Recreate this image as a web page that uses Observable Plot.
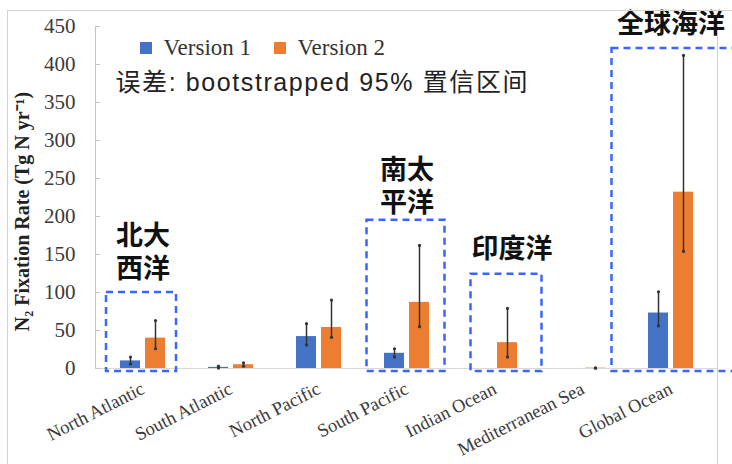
<!DOCTYPE html>
<html>
<head>
<meta charset="utf-8">
<script src="https://cdn.jsdelivr.net/npm/d3@7"></script>
<script src="https://cdn.jsdelivr.net/npm/@observablehq/plot@0.6"></script>
<style>
  body { margin: 0; background: #fff; }
  #wrap { position: relative; width: 732px; height: 464px; overflow: hidden; background: #fff; }
  #chart { position: absolute; left: 0; top: 0; }
  #frameTop { position: absolute; left: 7px; top: 10px; width: 730px; height: 460px; border-top: 1px solid #d4d4d4; border-left: 1px solid #d4d4d4; }
  #frameRight { position: absolute; left: 717px; top: 35px; width: 0; height: 440px; border-left: 1px solid #d0d0d0; }
  #legend { position: absolute; left: 140px; top: 31px; }
</style>
</head>
<body>
<div id="wrap">
  <div id="chart"></div>
  <div id="frameTop"></div>
  <div id="frameRight"></div>
  <div id="legend"></div>
</div>
<script>
// ---- data ----
const regions = ["North Atlantic", "South Atlantic", "North Pacific", "South Pacific", "Indian Ocean", "Mediterranean Sea", "Global Ocean"];
const seriesNames = ["Version 1", "Version 2"];
const v1Values = [10, 1.5, 42, 20, null, null, 73];
const v1Low    = [6, 0.5, 31, 15, null, null, 56];
const v1High   = [15, 3, 59, 26, null, null, 101];
const v2Values = [40, 5, 54, 87, 34, 0.5, 232];
const v2Low    = [26, 3, 41, 55, 15, 0.3, 154];
const v2High   = [63, 7.5, 90, 162, 79, 0.8, 412];
const yTicks = [0, 50, 100, 150, 200, 250, 300, 350, 400, 450];
const yLabel = "N\u2082 Fixation Rate (Tg N yr\u207B\u00B9)";
const subtitle = "误差: bootstrapped 95% 置信区间";
const boxRegions = ["North Atlantic", "South Pacific", "Indian Ocean", "Global Ocean"];
const boxTops = [100, 195, 124, 421];
const boxLabels = ["北大\n西洋", "南太\n平洋", "印度洋", "全球海洋"];

// ---- styles (kept separate from data) ----
const colors = ["#4472C4", "#ED7D31"];
const boxInsets = [[-14, -11], [-17.5, -15.5], [-1.5, -24.5], [-36.5, -60]];
const boxLabelDx = [0, 0, 17, 0];
const boxLabelDy = [-15, -8, -16, -16];
const serif = "'Liberation Serif', 'Times New Roman', serif";
const cjk = "'Noto Sans CJK SC', 'Noto Sans', sans-serif";

const rows = [];
regions.forEach((r, i) => {
  if (v1Values[i] != null) rows.push({region: r, version: seriesNames[0], value: v1Values[i], lo: v1Low[i], hi: v1High[i]});
  if (v2Values[i] != null) rows.push({region: r, version: seriesNames[1], value: v2Values[i], lo: v2Low[i], hi: v2High[i]});
});
const r1 = rows.filter(d => d.version === seriesNames[0]);
const r2 = rows.filter(d => d.version === seriesNames[1]);
const boxes = boxRegions.map((r, i) => ({region: r, top: boxTops[i], label: boxLabels[i]}));

const errMarks = (data, dx) => [
  Plot.ruleX(data, {x: "region", y1: "lo", y2: "hi", dx, stroke: "#333", strokeWidth: 1.5}),
  Plot.dot(data, {x: "region", y: "lo", dx, r: 1.6, fill: "#333", stroke: null}),
  Plot.dot(data, {x: "region", y: "hi", dx, r: 1.6, fill: "#333", stroke: null})
];

const chart = Plot.plot({
  width: 732,
  height: 464,
  marginLeft: 95,
  marginRight: 15,
  marginTop: 26,
  marginBottom: 96,
  style: {background: "transparent", overflow: "visible"},
  x: {domain: regions, paddingInner: 0.4936, paddingOuter: 0.2468},
  y: {domain: [0, 450]},
  marks: [
    Plot.ruleY([0], {stroke: "#d9d9d9", strokeWidth: 1}),
    Plot.frame({anchor: "left", stroke: "#c4c4c4"}),
    Plot.axisY({ticks: yTicks, tickSize: 5, dx: 5, stroke: "#c4c4c4", fill: "none", label: null}),
    Plot.axisY({ticks: yTicks, tickSize: 0, tickPadding: 20, fontSize: 21, fontFamily: serif, fill: "#3a3a3a", label: null}),
    Plot.text([yLabel], {frameAnchor: "left", text: d => d, rotate: -90, textAnchor: "middle", dx: -73, dy: 14, fontSize: 20, fontWeight: "bold", fontFamily: serif, fill: "#222"}),
    Plot.axisX({tickSize: 0, tickPadding: 19, tickRotate: -27, fontSize: 18.5, fontFamily: serif, fill: "#3a3a3a", label: null}),
    Plot.barY(r1, {x: "region", y: "value", fill: colors[0], insetRight: 25}),
    Plot.barY(r2, {x: "region", y: "value", fill: colors[1], insetLeft: 25}),
    ...errMarks(r1, -12.5),
    ...errMarks(r2, 12.5),
    ...boxes.map((b, i) => Plot.barY([b], {x: "region", y1: -4, y2: "top", fill: "none", stroke: "#3a66ff", strokeWidth: 2.5, strokeDasharray: "7,5", insetLeft: boxInsets[i][0], insetRight: boxInsets[i][1]})),
    ...boxes.map((b, i) => Plot.text([b], {x: "region", y: "top", text: "label", lineAnchor: "bottom", lineHeight: 1.22, dx: boxLabelDx[i], dy: boxLabelDy[i], fontSize: 27, fontWeight: "bold", fontFamily: cjk, fill: "#111"})),
    Plot.text([subtitle], {frameAnchor: "top-left", text: d => d, dx: 20, dy: 56, textAnchor: "start", lineAnchor: "middle", fontSize: 25, fontFamily: "'Liberation Sans', " + cjk, fill: "#222", className: "subtitle"})
  ]
});
// stretch subtitle to the reference's measured text extent
chart.querySelectorAll(".subtitle text").forEach(t => { t.setAttribute("textLength", "412"); t.setAttribute("lengthAdjust", "spacing"); });
document.getElementById("chart").appendChild(chart);

const legend = Plot.legend({
  color: {domain: seriesNames, range: colors},
  swatchSize: 12,
  style: {fontFamily: serif, fontSize: "23px", color: "#333", background: "transparent"}
});
document.getElementById("legend").appendChild(legend);
</script>
</body>
</html>
